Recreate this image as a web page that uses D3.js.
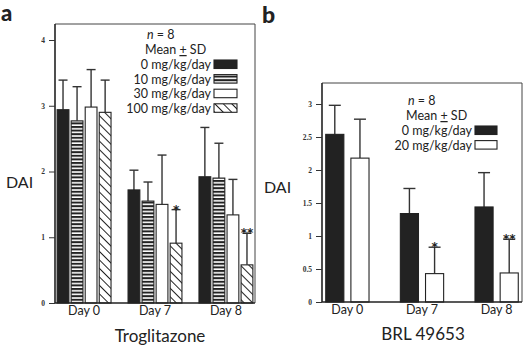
<!DOCTYPE html>
<html>
<head>
<meta charset="utf-8">
<script src="https://cdn.jsdelivr.net/npm/d3@7"></script>
<style>
  body { margin: 0; background: #fff; }
  svg { display: block; }
</style>
</head>
<body>
<div id="chart"></div>
<script>
// categories
const days = ["Day 0", "Day 7", "Day 8"];

// panel a: troglitazone
const dosesA = ["0 mg/kg/day", "10 mg/kg/day", "30 mg/kg/day", "100 mg/kg/day"];
const meanA = [
  [2.94, 1.72, 1.92],
  [2.77, 1.55, 1.90],
  [2.98, 1.50, 1.34],
  [2.90, 0.91, 0.58]
];
const sdA = [
  [0.45, 0.30, 0.75],
  [0.52, 0.29, 0.53],
  [0.57, 0.75, 0.54],
  [0.49, 0.51, 0.48]
];
const sigA = [
  ["", "", ""],
  ["", "", ""],
  ["", "", ""],
  ["", "*", "**"]
];
const ticksA = [0, 1, 2, 3, 4];

// panel b: BRL 49653
const dosesB = ["0 mg/kg/day", "20 mg/kg/day"];
const meanB = [
  [2.54, 1.34, 1.44],
  [2.18, 0.43, 0.44]
];
const sdB = [
  [0.44, 0.38, 0.52],
  [0.59, 0.40, 0.51]
];
const sigB = [
  ["", "", ""],
  ["", "*", "**"]
];
const ticksB = [0, 0.5, 1, 1.5, 2, 2.5, 3];

const W = 526, H = 350;
const ink = "#222";
const font = "Lato, 'DejaVu Sans', sans-serif";

const svg = d3.select("#chart").append("svg")
  .attr("width", W).attr("height", H);

// fill patterns
const defs = svg.append("defs");
const stripes = defs.append("pattern")
  .attr("id", "stripes").attr("patternUnits", "userSpaceOnUse")
  .attr("width", 8).attr("height", 3.6);
stripes.append("rect").attr("width", 8).attr("height", 3.6).attr("fill", "#fff");
stripes.append("rect").attr("width", 8).attr("height", 2).attr("fill", ink);

const hatch = defs.append("pattern")
  .attr("id", "hatch").attr("patternUnits", "userSpaceOnUse")
  .attr("width", 6).attr("height", 6)
  .attr("patternTransform", "rotate(-45)");
hatch.append("rect").attr("width", 6).attr("height", 6).attr("fill", "#fff");
hatch.append("line").attr("x1", 0).attr("y1", 0).attr("x2", 0).attr("y2", 6)
  .attr("stroke", ink).attr("stroke-width", 2);

const fillsA = [ink, "url(#stripes)", "#fff", "url(#hatch)"];
const fillsB = [ink, "#fff"];

function panel(opt) {
  const { x0, x1, yBottom, yTopTick, yFrameTop, yMax, ticks, tickFmt,
          doses, means, sds, sigs, fills, outerPad, innerPad, barPad, cap } = opt;

  const y = d3.scaleLinear().domain([0, yMax]).range([yBottom, yTopTick]);
  const xg = d3.scaleBand().domain(days).range([x0, x1])
    .paddingInner(innerPad).paddingOuter(outerPad);
  const xs = d3.scaleBand().domain(d3.range(doses.length)).range([0, xg.bandwidth()])
    .paddingInner(barPad);

  const g = svg.append("g");

  // frame (top + right)
  g.append("path")
    .attr("d", `M${x0},${yFrameTop}H${x1}V${yBottom}`)
    .attr("fill", "none").attr("stroke", "#444").attr("stroke-width", 1);

  const rows = [];
  doses.forEach((d, s) => days.forEach((day, i) => rows.push({
    s, day, m: means[s][i], sd: sds[s][i], sig: sigs[s][i]
  })));
  const cx = d => xg(d.day) + xs(d.s) + xs.bandwidth() / 2;

  // error bars (upward only)
  const eb = g.selectAll(".eb").data(rows).join("g");
  eb.append("line")
    .attr("x1", cx).attr("x2", cx)
    .attr("y1", d => y(d.m)).attr("y2", d => y(d.m + d.sd))
    .attr("stroke", "#333").attr("stroke-width", 1.4);
  eb.append("line")
    .attr("x1", d => cx(d) - cap / 2).attr("x2", d => cx(d) + cap / 2)
    .attr("y1", d => y(d.m + d.sd)).attr("y2", d => y(d.m + d.sd))
    .attr("stroke", "#333").attr("stroke-width", 1.4);
  eb.filter(d => d.sig).append("text")
    .attr("x", cx)
    .attr("y", d => y(d.m + d.sd) + 4)
    .attr("text-anchor", "middle")
    .style("font-family", "'DejaVu Sans', sans-serif").style("font-size", "12px")
    .style("font-weight", "bold").style("fill", "#222")
    .text(d => d.sig);

  // bars
  g.selectAll(".bar").data(rows).join("rect")
    .attr("x", d => xg(d.day) + xs(d.s))
    .attr("width", xs.bandwidth())
    .attr("y", d => y(d.m))
    .attr("height", d => y(0) - y(d.m))
    .attr("fill", d => fills[d.s])
    .attr("stroke", ink).attr("stroke-width", 1.1);

  // axes
  const ya = g.append("g").attr("transform", `translate(${x0},0)`)
    .call(d3.axisLeft(y).tickValues(ticks).tickFormat(tickFmt).tickSize(6).tickPadding(4));
  ya.select(".domain").attr("d", `M0,${yBottom}V${yFrameTop}`)
    .attr("stroke", "#222").attr("stroke-width", 1.6);
  ya.selectAll(".tick line").attr("stroke", "#333");
  ya.selectAll(".tick text")
    .style("font-family", "'Liberation Serif', serif").style("font-weight", "bold")
    .style("font-size", "7.5px").style("fill", "#333");

  const xa = g.append("g").attr("transform", `translate(0,${yBottom})`)
    .call(d3.axisBottom(xg).tickSize(0).tickPadding(3));
  xa.select(".domain").attr("d", `M${x0},0H${x1}`).attr("stroke", "#222").attr("stroke-width", 1.4);
  xa.selectAll(".tick text")
    .style("font-family", font).style("font-size", "12.5px").style("fill", ink);

  return { y, xg };
}

panel({
  x0: 55, x1: 255, yBottom: 303, yTopTick: 40, yFrameTop: 24, yMax: 4,
  ticks: ticksA, tickFmt: d3.format("d"),
  doses: dosesA, means: meanA, sds: sdA, sigs: sigA, fills: fillsA,
  outerPad: 0.03, innerPad: 0.24, barPad: 0.16, cap: 9
});

panel({
  x0: 322, x1: 522, yBottom: 302, yTopTick: 104, yFrameTop: 83, yMax: 3,
  ticks: ticksB, tickFmt: d => d === 0 ? "0" : (d % 1 ? d3.format(".1f")(d) : d3.format("d")(d)),
  doses: dosesB, means: meanB, sds: sdB, sigs: sigB, fills: fillsB,
  outerPad: 0.05, innerPad: 0.42, barPad: 0.28, cap: 12
});

// legends
function legend(xRight, yTop, doses, fills, swW) {
  const lg = svg.append("g").attr("font-family", font).attr("fill", ink);
  lg.append("text").attr("x", xRight - 64).attr("y", yTop)
    .attr("font-size", 12.5)
    .html('<tspan font-style="italic">n</tspan> = 8');
  lg.append("text").attr("x", xRight - 66).attr("y", yTop + 15)
    .attr("font-size", 12.5)
    .html('Mean <tspan text-decoration="underline">+</tspan> SD');
  doses.forEach((d, i) => {
    const yy = yTop + 30 + i * 14.6;
    lg.append("text").attr("x", xRight).attr("y", yy)
      .attr("text-anchor", "end").attr("font-size", 12.5).text(d);
    lg.append("rect").attr("x", xRight + 3).attr("y", yy - 9)
      .attr("width", swW).attr("height", 8.5)
      .attr("fill", fills[i]).attr("stroke", ink).attr("stroke-width", 1.1);
  });
}
legend(211, 39, dosesA, fillsA, 23);
legend(472, 105, dosesB, fillsB, 22);

// axis titles and panel labels
svg.append("text").attr("x", 6).attr("y", 188)
  .attr("font-family", font).attr("font-size", 16).attr("fill", ink).text("DAI");
svg.append("text").attr("x", 264).attr("y", 193)
  .attr("font-family", font).attr("font-size", 16).attr("fill", ink).text("DAI");
svg.append("text").attr("x", 160).attr("y", 342).attr("text-anchor", "middle")
  .attr("font-family", font).attr("font-size", 17).attr("fill", ink).text("Troglitazone");
svg.append("text").attr("x", 423).attr("y", 340).attr("text-anchor", "middle")
  .attr("font-family", font).attr("font-size", 17).attr("fill", ink).text("BRL 49653");
svg.append("text").attr("x", 1).attr("y", 21)
  .attr("font-family", font).attr("font-weight", 900).attr("font-size", 22).attr("fill", ink).text("a");
svg.append("text").attr("x", 262).attr("y", 23)
  .attr("font-family", font).attr("font-weight", 900).attr("font-size", 23).attr("fill", ink).text("b");
</script>
</body>
</html>
